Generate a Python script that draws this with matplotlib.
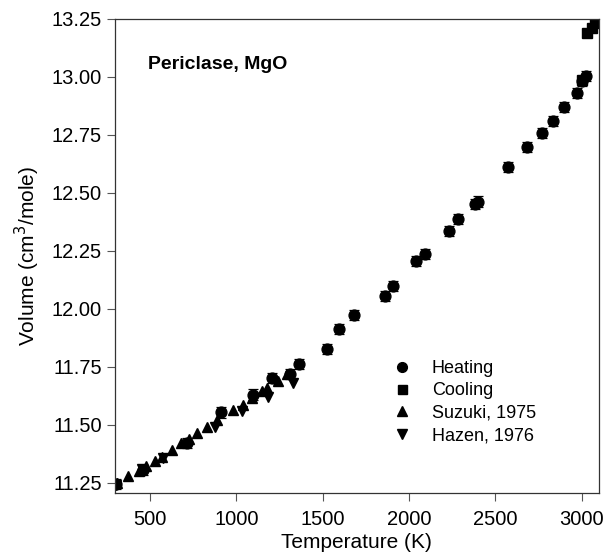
import matplotlib.pyplot as plt

plt.rcParams['font.family'] = ['Liberation Sans', 'DejaVu Sans']

# heating runs (circles with small error bars)
heat_T = [300, 460, 714, 910, 1097, 1206, 1309, 1361, 1523, 1592, 1679, 1864, 1910,
          2043, 2095, 2234, 2286, 2380, 2400, 2575, 2685, 2772, 2835, 2899, 2974,
          3003, 3026]
heat_V = [11.245, 11.305, 11.42, 11.553, 11.63, 11.70, 11.72, 11.76, 11.828, 11.914,
          11.974, 12.056, 12.099, 12.207, 12.237, 12.336, 12.388, 12.452, 12.462,
          12.612, 12.698, 12.759, 12.81, 12.87, 12.93, 12.98, 13.004]
heat_err = 0.022

# cooling runs
cool_T = [3005, 3030, 3059, 3077]
cool_V = [12.985, 13.19, 13.21, 13.232]

# Suzuki, 1975
suz_T = [310, 373, 436, 477, 529, 569, 627, 680, 726, 772, 830, 890, 981, 1040,
         1090, 1150, 1177, 1240, 1293]
suz_V = [11.25, 11.28, 11.30, 11.323, 11.345, 11.36, 11.39, 11.42, 11.44, 11.465,
         11.49, 11.52, 11.565, 11.585, 11.615, 11.645, 11.66, 11.69, 11.72]

# Hazen, 1976
haz_T = [300, 455, 575, 876, 1033, 1183, 1328]
haz_V = [11.24, 11.31, 11.355, 11.49, 11.56, 11.62, 11.68]

fig = plt.figure(figsize=(6.07, 5.55), dpi=100)
ax = fig.add_axes([0.1895, 0.1117, 0.797, 0.8546])

ax.errorbar(heat_T, heat_V, yerr=heat_err, fmt='none', ecolor='black',
            elinewidth=0.8, capsize=3.5, capthick=0.9)
ax.plot(heat_T, heat_V, 'o', color='black', ms=7.8, label='Heating')
ax.plot(cool_T, cool_V, 's', color='black', ms=7.2, label='Cooling')
ax.plot(suz_T, suz_V, '^', color='black', ms=7.5, label='Suzuki, 1975')
ax.plot(haz_T, haz_V, 'v', color='black', ms=7.5, label='Hazen, 1976')

ax.set_xlim(297, 3100)
ax.set_ylim(11.2056, 13.25)
ax.set_xticks([500, 1000, 1500, 2000, 2500, 3000])
ax.set_yticks([11.25, 11.5, 11.75, 12.0, 12.25, 12.5, 12.75, 13.0, 13.25])
ax.yaxis.set_major_formatter(plt.FormatStrFormatter('%.2f'))
ax.tick_params(direction='out', length=6, width=0.8, labelsize=14.5, color='#555555')
ax.tick_params(axis='x', pad=6)
for s in ax.spines.values():
    s.set_linewidth(0.9)
    s.set_color('#333333')

ax.set_xlabel('Temperature (K)', fontsize=15, labelpad=3)
ax.set_ylabel('Volume (cm$^3$/mole)', fontsize=15, labelpad=7)
ax.text(0.068, 0.893, 'Periclase, MgO', transform=ax.transAxes,
        fontsize=14, fontweight='bold')

ax.legend(loc='upper left', bbox_to_anchor=(0.532, 0.315), frameon=False,
          fontsize=13, handletextpad=0.9, labelspacing=0.3, markerscale=0.9,
          handlelength=1.5)

fig.savefig('out.png', dpi=100)
